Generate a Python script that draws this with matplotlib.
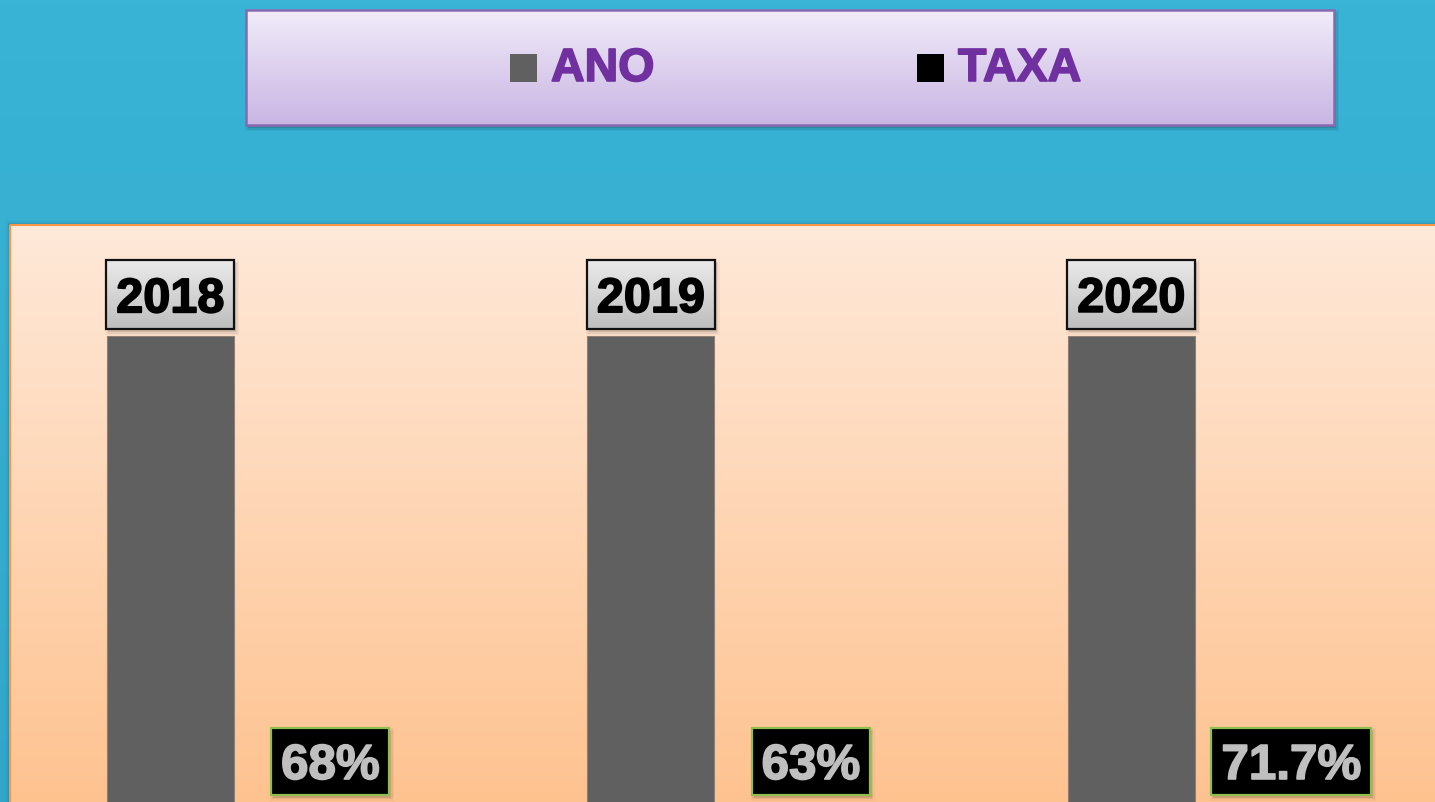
import numpy as np
import matplotlib
matplotlib.use("Agg")
import matplotlib.pyplot as plt
import matplotlib.patheffects as pe
from matplotlib.patches import Rectangle
from matplotlib.colors import LinearSegmentedColormap

# ---- data -------------------------------------------------------------
anos = ["2018", "2019", "2020"]
ano_values = [2018, 2019, 2020]
taxa_values = [0.68, 0.63, 0.717]
taxa_labels = ["68%", "63%", "71.7%"]
series_names = ["ANO", "TAXA"]

# ---- styling ----------------------------------------------------------
W, H = 1435, 802
FONT = ["Liberation Sans", "DejaVu Sans"]
ANO_COLOR = "#606060"
TAXA_COLOR = "#000000"
LEGEND_TEXT = "#7030A0"

fig = plt.figure(figsize=(W / 100, H / 100), dpi=100)
fig.patch.set_facecolor("#36B0D4")


def px_rect(x0, y0, x1, y1):
    """Pixel box (top-down) -> figure fraction [left, bottom, width, height]."""
    return [x0 / W, 1 - y1 / H, (x1 - x0) / W, (y1 - y0) / H]


def vgrad(ax, x0, y0, x1, y1, top, bottom, zorder):
    cmap = LinearSegmentedColormap.from_list("g", [top, bottom])
    g = np.linspace(0, 1, 256).reshape(-1, 1)
    ax.imshow(g, cmap=cmap, extent=(x0, x1, y1, y0), origin="upper",
              aspect="auto", zorder=zorder, interpolation="bilinear")


def soft_shadow(ax, x0, y0, x1, y1, dx, dy, zorder, strength=0.2):
    for k, a in enumerate([1.0, 0.6, 0.3]):
        grow = k * 1.5
        ax.add_patch(Rectangle((x0 + dx - grow, y0 + dy - grow),
                               (x1 - x0) + 2 * grow, (y1 - y0) + 2 * grow,
                               facecolor="black", edgecolor="none",
                               alpha=a * strength * 0.5, zorder=zorder))


def heavy(color, lw):
    return [pe.withStroke(linewidth=lw, foreground=color)]


# ---- figure backdrop (blue) ------------------------------------------
bg = fig.add_axes([0, 0, 1, 1], zorder=0)
bg.set_axis_off()
vgrad(bg, 0, 0, W, H, "#39B4D6", "#32A6C8", 0)

# ---- plot area panel (peach gradient) --------------------------------
panel = fig.add_axes([0, 0, 1, 1], zorder=1)
panel.set_axis_off()
panel.patch.set_alpha(0)
soft_shadow(panel, 10, 225, W + 20, H + 20, -2, -2, 1, 0.12)
vgrad(panel, 10, 225, W + 20, H + 20, "#FEE9D9", "#FFC18D", 2)
panel.add_patch(Rectangle((10, 225), W + 10, H, facecolor="none",
                          edgecolor="#F79646", lw=1.5, zorder=3))

# ---- bars -------------------------------------------------------------
ax = fig.add_axes(px_rect(10, 225, 1451.5, 803), zorder=2)
ax.patch.set_alpha(0)
ax.set_axis_off()
x = np.arange(len(anos))
bw = 0.2643
off = 0.1665
ax.bar(x - off, ano_values, width=bw, color=ANO_COLOR, zorder=3,
       edgecolor="#8E7E74", linewidth=0.8)
ax.bar(x + off, taxa_values, width=bw, color=TAXA_COLOR, zorder=3)
ax.set_xlim(-0.5, 2.5)
ax.set_ylim(0, 2500)

# ---- overlay for labels and legend (pixel coordinates) ---------------
ov = fig.add_axes([0, 0, 1, 1], zorder=5)
ov.set_axis_off()
ov.patch.set_alpha(0)
ov.set_xlim(0, W)
ov.set_ylim(H, 0)
renderer = fig.canvas.get_renderer()


def to_px(xv, yv):
    dx, dy = ax.transData.transform((xv, yv))
    return dx, H - dy


def label_box(cx, bar_top, text, size, gap, box_h, grad, edge, tcolor, pad=10):
    t = ov.text(cx, 0, text, fontsize=size, fontweight="bold", family=FONT,
                color=tcolor, ha="center", va="baseline", zorder=12,
                path_effects=heavy(tcolor, 1.2))
    ext = t.get_window_extent(renderer=renderer)
    bw_px = ext.width + 2 * pad
    y1 = bar_top - gap
    y0 = y1 - box_h
    x0, x1 = cx - bw_px / 2, cx + bw_px / 2
    soft_shadow(ov, x0, y0, x1, y1, 2, 3, 9)
    if isinstance(grad, tuple):
        vgrad(ov, x0, y0, x1, y1, grad[0], grad[1], 10)
    else:
        ov.add_patch(Rectangle((x0, y0), x1 - x0, y1 - y0, facecolor=grad,
                               edgecolor="none", zorder=10))
    ov.add_patch(Rectangle((x0, y0), x1 - x0, y1 - y0, facecolor="none",
                           edgecolor=edge, lw=1.6, zorder=11))
    cap = 0.716 * size * 100 / 72
    t.set_y((y0 + y1) / 2 + cap / 2)


for i, (lab, v) in enumerate(zip(anos, ano_values)):
    cx, top = to_px(x[i] - off, v)
    label_box(cx, top, lab, 35, 7, 69, ("#EAEAEA", "#BEBEBE"), "#111111", "black")

for i, (lab, v) in enumerate(zip(taxa_labels, taxa_values)):
    cx, top = to_px(x[i] + off, v)
    label_box(cx, top, lab, 35.5, 8, 67, "#000000", "#8CBF4E", "#BFBFBF")

# ---- legend -----------------------------------------------------------
lx0, ly0, lx1, ly1 = 246, 10, 1334, 125
soft_shadow(ov, lx0, ly0, lx1, ly1, 2, 3, 6, 0.25)
vgrad(ov, lx0, ly0, lx1, ly1, "#F1ECF9", "#C9B5E3", 7)
ov.add_patch(Rectangle((lx0, ly0), lx1 - lx0, ly1 - ly0, facecolor="none",
                       edgecolor="#8A68B0", lw=1.8, zorder=8))
for name, col, mx in zip(series_names, [ANO_COLOR, TAXA_COLOR], [510, 917]):
    ov.add_patch(Rectangle((mx, 54), 27, 28, facecolor=col, edgecolor="none",
                           zorder=9))
    ov.text(mx + 41, 81, name, fontsize=33.5, fontweight="bold", family=FONT,
            color=LEGEND_TEXT, ha="left", va="baseline", zorder=9,
            path_effects=heavy(LEGEND_TEXT, 1.2))

for a in (bg, panel, ov):
    a.set_xlim(0, W)
    a.set_ylim(H, 0)

fig.savefig("out.png", dpi=100, facecolor=fig.get_facecolor())
